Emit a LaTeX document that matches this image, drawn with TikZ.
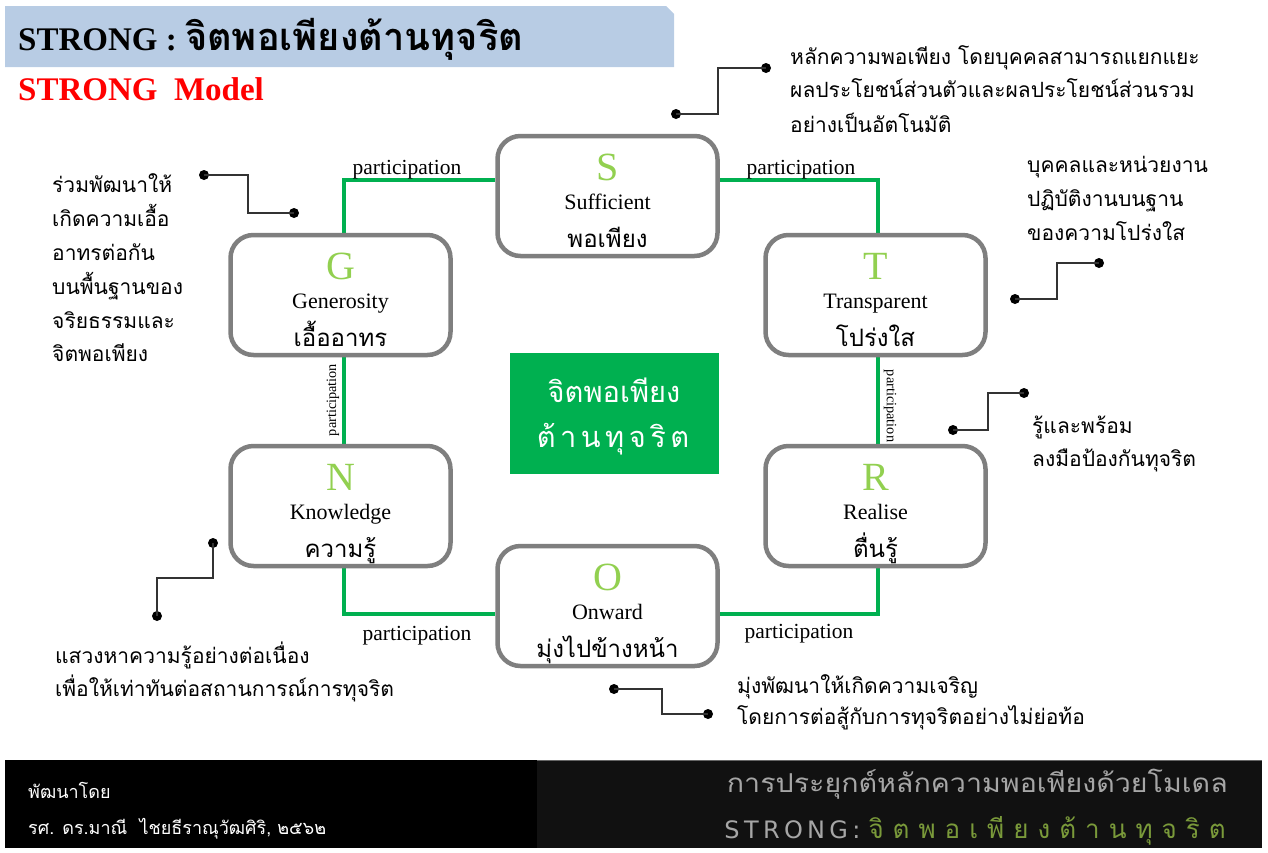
\documentclass[tikz,border=0pt]{standalone}
\usepackage{fontspec}
\setmainfont{Liberation Serif}
\newfontfamily\thai[Script=Thai]{Loma}
\newfontfamily\spsans[LetterSpace=18]{DejaVu Sans}
\usetikzlibrary{backgrounds}
\definecolor{titleblue}{RGB}{184,204,228}
\definecolor{gline}{RGB}{0,176,80}
\definecolor{lgreen}{RGB}{146,208,80}
\definecolor{boxgray}{RGB}{127,127,127}
\definecolor{fgray}{RGB}{166,166,166}
\definecolor{olive}{RGB}{122,154,58}
\definecolor{darkbg}{RGB}{17,17,17}
\tikzset{
 box/.style={draw=boxgray, line width=4.5pt, rounded corners=23pt, fill=white, minimum width=220pt, minimum height=120pt, inner sep=0pt},
 letter/.style={anchor=base, text=lgreen, font=\fontsize{40}{42}\selectfont, inner sep=0pt},
 eng/.style={anchor=base, font=\fontsize{22}{24}\selectfont, inner sep=0pt},
 thw/.style={anchor=base, font=\thai\fontsize{24}{26}\selectfont, inner sep=0pt},
 gconn/.style={draw=gline, line width=4pt},
 plabel/.style={font=\fontsize{21.5}{22}\selectfont, inner sep=0pt},
 vlabel/.style={font=\fontsize{14.3}{15}\selectfont, inner sep=0pt},
 nline/.style={draw=black!80, line width=1.5pt},
 dot/.style={circle, fill=black, inner sep=0pt, minimum size=10pt},
 note/.style={anchor=base west, font=\thai\fontsize{21}{24}\selectfont, inner sep=0pt},
 core/.style={anchor=base, text=white, font=\thai\fontsize{29}{32}\selectfont, inner sep=0pt},
}
\begin{document}
\begin{tikzpicture}[x=1pt,y=-1pt]
\useasboundingbox (0,0) rectangle (1268,852);
% title
\fill[titleblue] (5,6) -- (666,6) -- (674,14) -- (674,67) -- (5,67) -- cycle;
\node[anchor=base west, inner sep=0pt, font=\bfseries\fontsize{33}{36}\selectfont] (title) at (18,50) {STRONG : {\thai\bfseries\fontsize{38}{40}\selectfont จิตพอเพียงต้านทุจริต}};
\node[anchor=base west, inner sep=0pt, text=red, font=\bfseries\fontsize{33}{35}\selectfont] (model) at (18,100) {STRONG\ \ Model};

% boxes
\node[box] (S) at (607.5,196) {};
\node[box] (G) at (340.5,295) {};
\node[box] (T) at (875.5,295) {};
\node[box] (N) at (340.5,506) {};
\node[box] (R) at (875.5,506) {};
\node[box] (O) at (607.5,606) {};

\node[letter] (S1) at (607.5,180) {S};
\node[eng] (S2) at (607.5,209) {Sufficient};
\node[thw] (S3) at (607.5,247) {พอเพียง};
\node[letter] (G1) at (340.5,279) {G};
\node[eng] (G2) at (340.5,308) {Generosity};
\node[thw] (G3) at (340.5,346) {เอื้ออาทร};
\node[letter] (T1) at (875.5,279) {T};
\node[eng] (T2) at (875.5,308) {Transparent};
\node[thw] (T3) at (875.5,346) {โปร่งใส};
\node[letter] (N1) at (340.5,490) {N};
\node[eng] (N2) at (340.5,519) {Knowledge};
\node[thw] (N3) at (340.5,557) {ความรู้};
\node[letter] (R1) at (875.5,490) {R};
\node[eng] (R2) at (875.5,519) {Realise};
\node[thw] (R3) at (875.5,557) {ตื่นรู้};
\node[letter] (O1) at (607.5,590) {O};
\node[eng] (O2) at (607.5,619) {Onward};
\node[thw] (O3) at (607.5,657) {มุ่งไปข้างหน้า};

% connectors
\begin{pgfonlayer}{background}
\draw[gconn] ([xshift=3.5pt]G.north) |- ([yshift=16pt]S.west);
\draw[gconn] ([yshift=16pt]S.east) -| ([xshift=2.5pt]T.north);
\draw[gconn] ([xshift=3.5pt]G.south) -- ([xshift=3.5pt]N.north);
\draw[gconn] ([xshift=2.5pt]T.south) -- ([xshift=2.5pt]R.north);
\draw[gconn] ([xshift=3.5pt]N.south) |- ([yshift=-8pt]O.west);
\draw[gconn] ([yshift=-8pt]O.east) -| ([xshift=2.5pt]R.south);
\node[plabel, anchor=base] (p1) at (407,174) {participation};
\node[plabel, anchor=base] (p2) at (801,174) {participation};
\node[vlabel, rotate=90] (p3) at (333,400) {participation};
\node[vlabel, rotate=-90] (p4) at (890,406) {participation};
\node[plabel, anchor=base] (p5) at (417,640) {participation};
\node[plabel, anchor=base] (p6) at (799,638) {participation};
\end{pgfonlayer}

% core
\node[fill=gline, minimum width=209pt, minimum height=121pt, inner sep=0pt] (core) at (614.5,413.5) {};
\node[core] (core1) at (614,402) {จิตพอเพียง};
\node[core] (core2) at (613,447) {ต้\hspace{4.5pt}า\hspace{4.5pt}น\hspace{4.5pt}ทุ\hspace{4.5pt}จ\hspace{4.5pt}ริ\hspace{4.5pt}ต};

% notes
\node[dot] (sa) at (676,114) {};
\node[dot] (sb) at (766,68) {};
\draw[nline] (sa.center) -| (718,91) |- (sb.center);
\node[note] (sn1) at (790,64) {หลักความพอเพียง โดยบุคคลสามารถแยกแยะ};
\node[note] (sn2) at (790,97) {ผลประโยชน์ส่วนตัวและผลประโยชน์ส่วนรวม};
\node[note] (sn3) at (790,132) {อย่างเป็นอัตโนมัติ};

\node[dot] (ga) at (204,175) {};
\node[dot] (gb) at (294,213) {};
\draw[nline] (ga.center) -| (248,194) |- (gb.center);
\node[note] (gn1) at (52,192) {ร่วมพัฒนาให้};
\node[note] (gn2) at (52,226) {เกิดความเอื้อ};
\node[note] (gn3) at (52,260) {อาทรต่อกัน};
\node[note] (gn4) at (52,294) {บนพื้นฐานของ};
\node[note] (gn5) at (52,328) {จริยธรรมและ};
\node[note] (gn6) at (52,361) {จิตพอเพียง};

\node[dot] (ta) at (1015,299) {};
\node[dot] (tb) at (1099,263) {};
\draw[nline] (ta.center) -| (1057,281) |- (tb.center);
\node[note] (tn1) at (1027,172) {บุคคลและหน่วยงาน};
\node[note] (tn2) at (1027,206) {ปฏิบัติงานบนฐาน};
\node[note] (tn3) at (1027,240) {ของความโปร่งใส};

\node[dot] (ra) at (953,430) {};
\node[dot] (rb) at (1024,393) {};
\draw[nline] (ra.center) -| (988,411) |- (rb.center);
\node[note] (rn1) at (1032,433) {รู้และพร้อม};
\node[note] (rn2) at (1032,466) {ลงมือป้องกันทุจริต};

\node[dot] (na) at (213,543) {};
\node[dot] (nb) at (157,616) {};
\draw[nline] (na.center) |- (185,578) -| (nb.center);
\node[note] (nn1) at (55,663) {แสวงหาความรู้อย่างต่อเนื่อง};
\node[note] (nn2) at (55,696) {เพื่อให้เท่าทันต่อสถานการณ์การทุจริต};

\node[dot] (oa) at (614,689) {};
\node[dot] (ob) at (708,714) {};
\draw[nline] (oa.center) -| (662,701) |- (ob.center);
\node[note] (on1) at (737,693) {มุ่งพัฒนาให้เกิดความเจริญ};
\node[note] (on2) at (737,724) {โดยการต่อสู้กับการทุจริตอย่างไม่ย่อท้อ};

% footer
\fill[black] (5,760) rectangle (537,848);
\fill[darkbg] (537,760) rectangle (1262,848);
\draw[black!60, line width=1pt] (537,760.5) -- (1262,760.5);
\node[anchor=base west, inner sep=0pt, text=white, font=\thai\fontsize{18}{20}\selectfont] (f1) at (28,798) {พัฒนาโดย};
\node[anchor=base west, inner sep=0pt, text=white, font=\thai\fontsize{18}{20}\selectfont] (f2) at (28,834) {รศ. ดร.มาณี\ \ ไชยธีราณุวัฒศิริ, ๒๕๖๒};
\node[anchor=base east, inner sep=0pt, text=fgray, font=\thai\fontsize{26}{28}\selectfont] (f3) at (1228,792) {\scalebox{1.1}[1]{การประยุกต์หลักความพอเพียงด้วยโมเดล}};
\node[anchor=base east, inner sep=0pt, font=\fontsize{24}{28}\selectfont] (f4) at (1226,838) {{\spsans\color{fgray}STRONG:}\hspace{8pt}{\thai\fontsize{26}{28}\selectfont\color{olive}จิ\hspace{9pt}ต\hspace{9pt}พ\hspace{9pt}อ\hspace{9pt}เ\hspace{9pt}พี\hspace{9pt}ย\hspace{9pt}ง\hspace{9pt}ต้\hspace{9pt}า\hspace{9pt}น\hspace{9pt}ทุ\hspace{9pt}จ\hspace{9pt}ริ\hspace{9pt}ต}};
\end{tikzpicture}
\end{document}
